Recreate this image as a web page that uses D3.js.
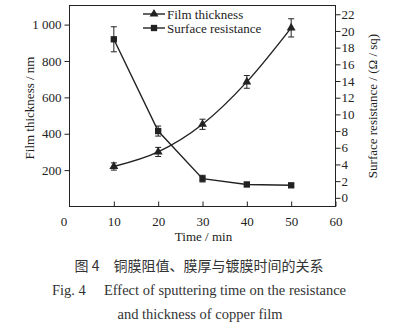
<!DOCTYPE html>
<html><head><meta charset="utf-8">
<script src="https://cdn.jsdelivr.net/npm/d3@7"></script>
<style>body{margin:0;background:#fff}svg{display:block}</style>
</head><body><div id="c"></div>
<script>
const times = [10, 20, 30, 40, 50];
const thickness = [220, 300, 452, 685, 982];
const thicknessErr = [20, 25, 28, 35, 50];
const resistance = [19.0, 8.0, 2.3, 1.6, 1.5];
const resistanceErr = [1.5, 0.6, 0.4, 0.25, 0.2];
const xTicks = [0, 10, 20, 30, 40, 50, 60];
const leftTicks = [200, 400, 600, 800, 1000];
const rightTicks = [0, 2, 4, 6, 8, 10, 12, 14, 16, 18, 20, 22];
const legendLabels = ["Film thickness", "Surface resistance"];

const W = 398, H = 327;
const m = {l: 69.5, r: 335.5, t: 5.5, b: 206.5};
const ink = "#222";
const font = "'Liberation Serif', 'Times New Roman', serif";

const svg = d3.select("#c").append("svg").attr("width", W).attr("height", H)
  .style("font-family", font);

const x = d3.scaleLinear().domain([0, 60]).range([m.l, m.r]);
const yL = d3.scaleLinear().domain([0, 1105]).range([m.b, m.t]);
const yR = d3.scaleLinear().domain([-1.04, 23.05]).range([m.b, m.t]);

// frame
svg.append("rect").attr("x", m.l).attr("y", m.t).attr("width", m.r - m.l).attr("height", m.b - m.t)
  .attr("fill", "none").attr("stroke", ink).attr("stroke-width", 1);

function styleAxis(g) {
  g.select(".domain").remove();
  g.selectAll("line").attr("stroke", ink);
  g.selectAll("text").attr("fill", ink).style("font-size", "13px").style("font-family", font);
}

// x axis (ticks inward)
const xa = svg.append("g").attr("transform", `translate(0,${m.b})`)
  .call(d3.axisBottom(x).tickValues(xTicks).tickSize(-5).tickPadding(10).tickFormat(d3.format("d")));
styleAxis(xa);
xa.selectAll(".tick").filter(d => d === 0).select("line").remove();
xa.selectAll(".tick").filter(d => d === 0).select("text").attr("dx", -6);

// left axis (outward)
const fmtL = d => d >= 1000 ? "1 000" : String(d);
const la = svg.append("g").attr("transform", `translate(${m.l},0)`)
  .call(d3.axisLeft(yL).tickValues(leftTicks).tickSize(5).tickPadding(3).tickFormat(fmtL));
styleAxis(la);

// right axis (outward)
const ra = svg.append("g").attr("transform", `translate(${m.r},0)`)
  .call(d3.axisRight(yR).tickValues(rightTicks).tickSize(5).tickPadding(1).tickFormat(d3.format("d")));
styleAxis(ra);

// axis titles
svg.append("text").attr("x", (m.l + m.r) / 2 + 1).attr("y", 241).attr("text-anchor", "middle")
  .attr("fill", ink).style("font-size", "13px").text("Time / min");
svg.append("text").attr("transform", `translate(34,${(m.t + m.b) / 2 + 2}) rotate(-90)`)
  .attr("text-anchor", "middle").attr("fill", ink).style("font-size", "13px").text("Film thickness / nm");
svg.append("text").attr("transform", `translate(377,${(m.t + m.b) / 2}) rotate(-90)`)
  .attr("text-anchor", "middle").attr("fill", ink).style("font-size", "13px").text("Surface resistance / (Ω / sq)");

// series
const dT = times.map((t, i) => ({t, v: thickness[i], e: thicknessErr[i]}));
const dR = times.map((t, i) => ({t, v: resistance[i], e: resistanceErr[i]}));

svg.append("path").datum(dT).attr("fill", "none").attr("stroke", ink).attr("stroke-width", 1.4)
  .attr("d", d3.line().x(d => x(d.t)).y(d => yL(d.v)).curve(d3.curveMonotoneX));
svg.append("path").datum(dR).attr("fill", "none").attr("stroke", ink).attr("stroke-width", 1.4)
  .attr("d", d3.line().x(d => x(d.t)).y(d => yR(d.v)));

function errBars(data, y) {
  const g = svg.append("g").attr("stroke", ink).attr("stroke-width", 1);
  data.forEach(d => {
    const cx = x(d.t), y1 = y(d.v - d.e), y2 = y(d.v + d.e);
    g.append("line").attr("x1", cx).attr("x2", cx).attr("y1", y1).attr("y2", y2);
    g.append("line").attr("x1", cx - 3).attr("x2", cx + 3).attr("y1", y1).attr("y2", y1);
    g.append("line").attr("x1", cx - 3).attr("x2", cx + 3).attr("y1", y2).attr("y2", y2);
  });
}
errBars(dT, yL);
errBars(dR, yR);

const tri = d3.symbol().type(d3.symbolTriangle).size(34);
const sq = d3.symbol().type(d3.symbolSquare).size(40);
svg.append("g").selectAll("path").data(dT).join("path")
  .attr("transform", d => `translate(${x(d.t)},${yL(d.v)})`).attr("d", tri).attr("fill", ink);
svg.append("g").selectAll("path").data(dR).join("path")
  .attr("transform", d => `translate(${x(d.t)},${yR(d.v)})`).attr("d", sq).attr("fill", ink);

// legend
const leg = svg.append("g");
[[tri, 14], [sq, 28]].forEach(([sym, ly], i) => {
  leg.append("line").attr("x1", 143).attr("x2", 165).attr("y1", ly).attr("y2", ly)
    .attr("stroke", ink).attr("stroke-width", 1.4);
  leg.append("path").attr("transform", `translate(154,${ly})`).attr("d", sym).attr("fill", ink);
  leg.append("text").attr("x", 167).attr("y", ly + 4.5).attr("fill", ink)
    .style("font-size", "13px").text(legendLabels[i]);
});

// caption
svg.append("text").attr("x", 199).attr("y", 271).attr("text-anchor", "middle").attr("fill", "#333")
  .style("font-family", "'Noto Sans CJK SC', sans-serif").style("font-size", "14px")
  .attr("xml:space", "preserve").text("图 4\u3000铜膜阻值、膜厚与镀膜时间的关系");
svg.append("text").attr("x", 199).attr("y", 295).attr("text-anchor", "middle").attr("fill", "#333")
  .style("font-size", "14.5px").attr("xml:space", "preserve")
  .text("Fig. 4\u2003 Effect of sputtering time on the resistance");
svg.append("text").attr("x", 200).attr("y", 319).attr("text-anchor", "middle").attr("fill", "#333")
  .style("font-size", "14.5px").text("and thickness of copper film");
</script></body></html>
